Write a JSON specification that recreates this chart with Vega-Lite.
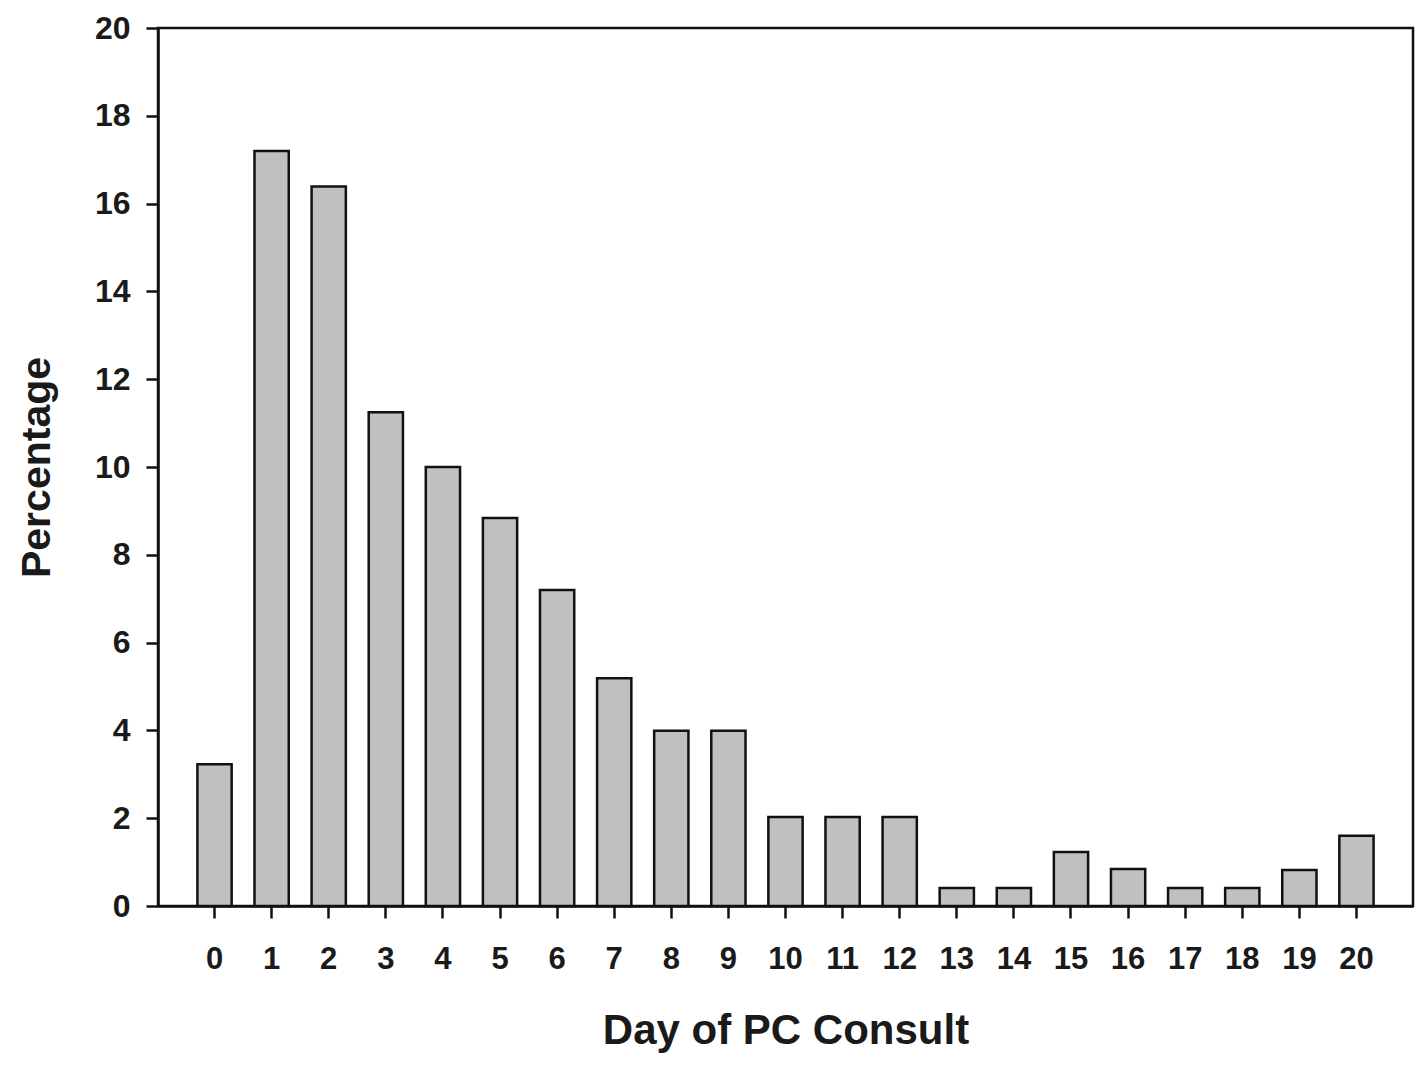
{
  "$schema": "https://vega.github.io/schema/vega-lite/v6.json",
  "width": 1255,
  "height": 878,
  "autosize": {"type": "none"},
  "padding": {"left": 158, "top": 28, "right": 8, "bottom": 163},
  "background": "white",
  "data": {
    "values": [
      {"day": "0", "pct": 3.23},
      {"day": "1", "pct": 17.2},
      {"day": "2", "pct": 16.39},
      {"day": "3", "pct": 11.25},
      {"day": "4", "pct": 10.0},
      {"day": "5", "pct": 8.84},
      {"day": "6", "pct": 7.2},
      {"day": "7", "pct": 5.19},
      {"day": "8", "pct": 3.99},
      {"day": "9", "pct": 3.99},
      {"day": "10", "pct": 2.03},
      {"day": "11", "pct": 2.03},
      {"day": "12", "pct": 2.03},
      {"day": "13", "pct": 0.41},
      {"day": "14", "pct": 0.41},
      {"day": "15", "pct": 1.23},
      {"day": "16", "pct": 0.84},
      {"day": "17", "pct": 0.41},
      {"day": "18", "pct": 0.41},
      {"day": "19", "pct": 0.82},
      {"day": "20", "pct": 1.6}
    ]
  },
  "config": {
    "view": {"stroke": "#111111", "strokeWidth": 2.5},
    "axis": {
      "labelFont": "Liberation Sans",
      "titleFont": "Liberation Sans",
      "labelFontWeight": "bold",
      "titleFontWeight": "bold",
      "labelColor": "#1a1a1a",
      "titleColor": "#1a1a1a",
      "domainColor": "#111111",
      "tickColor": "#111111",
      "domainWidth": 2.5,
      "tickWidth": 2.5,
      "grid": false
    }
  },
  "mark": {"type": "bar", "fill": "#c0c0c0", "stroke": "#111111", "strokeWidth": 2.5},
  "encoding": {
    "x": {
      "field": "day",
      "type": "ordinal",
      "sort": null,
      "scale": {"paddingInner": 0.4, "paddingOuter": 0.69},
      "axis": {
        "title": "Day of PC Consult",
        "labelAngle": 0,
        "labelFontSize": 31,
        "labelPadding": 26,
        "tickSize": 12,
        "titleFontSize": 42,
        "titlePadding": 36
      }
    },
    "y": {
      "field": "pct",
      "type": "quantitative",
      "scale": {"domain": [0, 20], "nice": false},
      "axis": {
        "title": "Percentage",
        "values": [0, 2, 4, 6, 8, 10, 12, 14, 16, 18, 20],
        "labelFontSize": 32,
        "labelPadding": 16,
        "tickSize": 12,
        "titleFontSize": 41,
        "titlePadding": 36
      }
    }
  }
}
